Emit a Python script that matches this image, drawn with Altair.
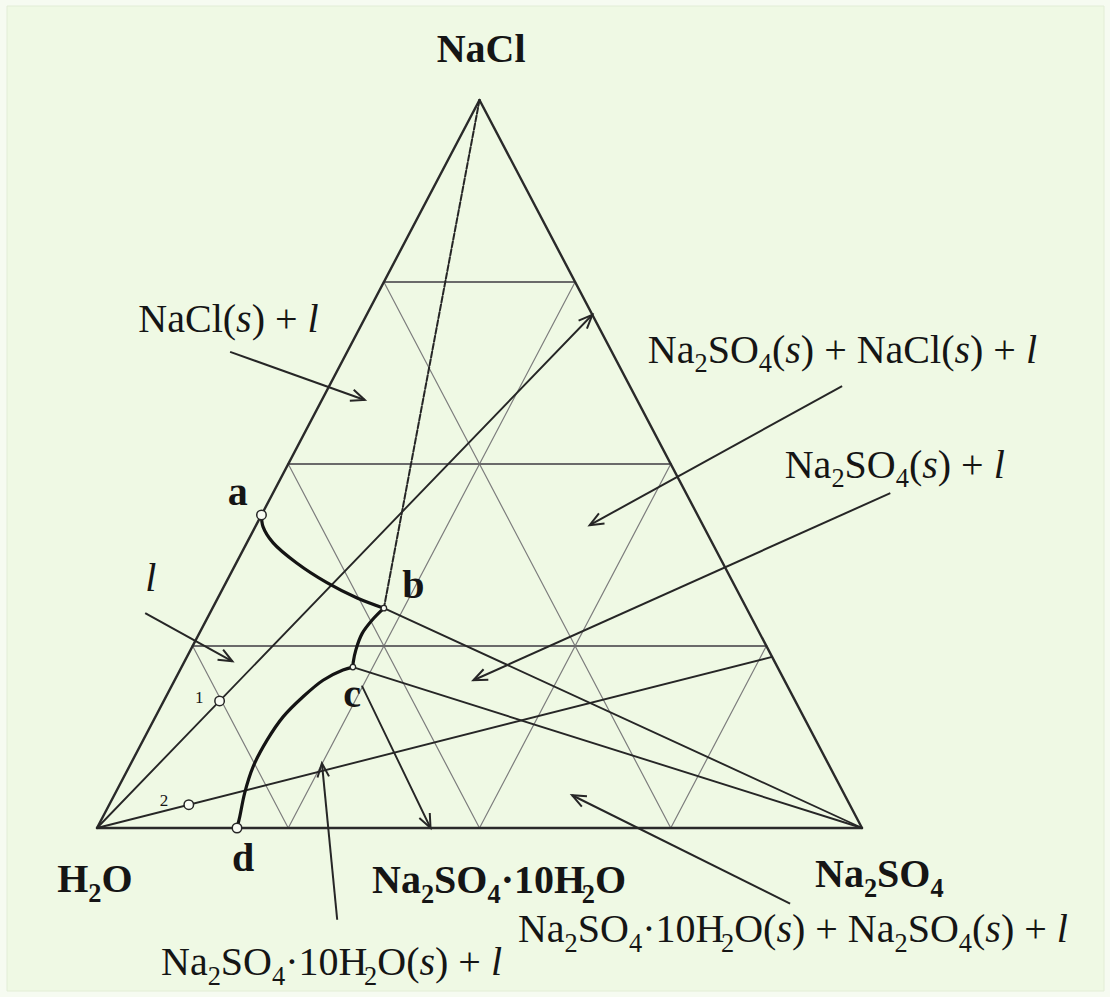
import math
import altair as alt
import pandas as pd

# ---------------------------------------------------------------
# NaCl – Na2SO4 – H2O ternary phase diagram
# compositions are mass %, given as (NaCl, Na2SO4); water is the balance
# ---------------------------------------------------------------

# saturation curve a-b : liquid saturated with NaCl
ab_nacl = [43.0, 41.4, 39.2, 36.4, 33.7, 31.6, 30.2]
ab_na2so4 = [0.0, 1.0, 3.4, 7.9, 13.2, 18.2, 22.4]
# saturation curve b-c : liquid saturated with anhydrous Na2SO4
bc_nacl = [30.2, 28.6, 26.7, 24.5, 22.8, 22.1]
bc_na2so4 = [22.4, 21.7, 21.3, 21.6, 22.1, 22.4]
# saturation curve c-d : liquid saturated with Na2SO4·10H2O
cd_nacl = [22.1, 21.7, 20.3, 18.0, 15.3, 12.1, 8.4, 4.8, 1.5, 0.0]
cd_na2so4 = [22.4, 21.3, 19.4, 17.9, 16.7, 16.2, 16.2, 16.9, 17.9, 18.3]

# marked compositions
point_names = ["a", "b", "c", "d", "1", "2"]
point_nacl = [43.0, 30.2, 22.1, 0.0, 17.45, 3.2]
point_na2so4 = [0.0, 22.4, 22.4, 18.3, 7.3, 10.4]

# Na2SO4·10H2O on the H2O–Na2SO4 side
decahydrate_na2so4 = 43.6
# ends of the water dilution lines through points 1 and 2 (NaCl, Na2SO4)
line1_end = (70.5, 29.5)
line2_end = (23.5, 76.5)
# composition grid, %
grid_steps = [25, 50, 75]

BG = "#eff9e4"
FONT = "Liberation Serif"


def tern(nacl, na2so4):
    """Composition (%) -> plot coordinates (H2O at origin, Na2SO4 at x=1)."""
    return na2so4 / 100 + nacl / 200, nacl / 100


# plot coordinates -> pixels: 765 px per unit along the base, 728 px per unit in height
PX_X, PX_Y = 765, 728
W, H = 1110, 997
X0, Y0 = -97 / PX_X, -169 / PX_Y
xs = alt.Scale(domain=[X0, X0 + W / PX_X], nice=False, zero=False)
ys = alt.Scale(domain=[Y0, Y0 + H / PX_Y], nice=False, zero=False)


def xy():
    return dict(x=alt.X("x:Q", scale=xs, axis=None),
                y=alt.Y("y:Q", scale=ys, axis=None))


def seg_row(p, q, kind):
    (x1, y1), (x2, y2) = tern(*p), tern(*q)
    return dict(x=x1, y=y1, x2=x2, y2=y2, kind=kind)


H2O, NA2SO4, NACL = (0, 0), (0, 100), (100, 0)

segments = [seg_row(H2O, NA2SO4, "edge"), seg_row(NA2SO4, NACL, "edge"),
            seg_row(NACL, H2O, "edge")]
for k in grid_steps:
    segments.append(seg_row((k, 0), (k, 100 - k), "hgrid"))
    segments.append(seg_row((0, k), (100 - k, k), "sgrid"))
    segments.append(seg_row((100 - k, 0), (0, 100 - k), "sgrid"))

b = (point_nacl[1], point_na2so4[1])
c = (point_nacl[2], point_na2so4[2])
dec = (0, decahydrate_na2so4)
c_start = (c[0] + 0.12 * (dec[0] - c[0]), c[1] + 0.12 * (dec[1] - c[1]))

segments += [
    seg_row(H2O, line1_end, "tie"),
    seg_row(H2O, line2_end, "tie"),
    seg_row(b, NA2SO4, "tie"),
    seg_row(c, NA2SO4, "tie"),
    seg_row(c_start, dec, "tie"),
    seg_row(NACL, b, "dash"),
]
seg_df = pd.DataFrame(segments)

# label arrows, in plot coordinates: tail x, tail y, head x, head y
arrows = [
    (0.174, 0.654, 0.350, 0.588),
    (0.063, 0.295, 0.177, 0.229),
    (0.974, 0.607, 0.644, 0.416),
    (1.037, 0.460, 0.492, 0.203),
    (0.314, -0.126, 0.294, 0.089),
    (0.906, -0.104, 0.621, 0.045),
]
arrow_df = pd.DataFrame(arrows, columns=["x", "y", "x2", "y2"])


def head_angle(x1, y1, x2, y2):
    dxp = (x2 - x1) * PX_X
    dyp = -(y2 - y1) * PX_Y
    return math.degrees(math.atan2(dxp, -dyp)) % 360


heads = []
for x1, y1, x2, y2 in arrows:
    heads.append(dict(x=x2, y=y2, angle=head_angle(x1, y1, x2, y2)))
for p, q in [(H2O, line1_end), (c_start, dec)]:
    (x1, y1), (x2, y2) = tern(*p), tern(*q)
    heads.append(dict(x=x2, y=y2, angle=head_angle(x1, y1, x2, y2)))
head_df = pd.DataFrame(heads)

# saturation curves
curve_rows = []
for name, nn, ss in [("ab", ab_nacl, ab_na2so4), ("bc", bc_nacl, bc_na2so4),
                     ("cd", cd_nacl, cd_na2so4)]:
    for i, (n, s) in enumerate(zip(nn, ss)):
        x, y = tern(n, s)
        curve_rows.append(dict(x=x, y=y, seg=name, ord=i))
curve_df = pd.DataFrame(curve_rows)

pts = [dict(zip(("x", "y"), tern(n, s)), name=nm)
       for nm, n, s in zip(point_names, point_nacl, point_na2so4)]
pts_df = pd.DataFrame(pts)
open_df = pts_df[pts_df["name"].isin(["a", "d", "1", "2"])]
small_df = pts_df[pts_df["name"].isin(["b", "c"])]

# ---------------------------------------------------------------
# text labels: "_" marks a subscript character, "*...*" italic
# ---------------------------------------------------------------
labels = [
    ("NaCl", 0.444, 1.052, "bold", 40),
    ("H_2O", -0.052, -0.088, "bold", 40),
    ("Na_2SO_4·10H_2O", 0.3595, -0.0893, "bold", 40),
    ("Na_2SO_4", 0.9386, -0.081, "bold", 40),
    ("a", 0.171, 0.444, "bold", 40),
    ("b", 0.399, 0.316, "bold", 40),
    ("c", 0.322, 0.166, "bold", 40),
    ("d", 0.1765, -0.059, "bold", 40),
    ("1", 0.128, 0.172, "reg", 17),
    ("2", 0.082, 0.030, "reg", 17),
    ("NaCl(*s*) + *l*", 0.054, 0.681, "reg", 40),
    ("Na_2SO_4(*s*) + NaCl(*s*) + *l*", 0.720, 0.639, "reg", 40),
    ("Na_2SO_4(*s*) + *l*", 0.899, 0.481, "reg", 40),
    ("*l*", 0.063, 0.3255, "reg", 40),
    ("Na_2SO_4·10H_2O(*s*) + *l*", 0.0837, -0.2019, "reg", 40),
    ("Na_2SO_4·10H_2O(*s*) + Na_2SO_4(*s*) + *l*", 0.5503, -0.1566, "reg", 40),
]

# advance widths (em) of the serif face
REG = {" ": 0.25, "(": 0.333, ")": 0.333, "+": 0.564, "0": 0.5, "1": 0.5,
       "2": 0.5, "4": 0.5, "C": 0.667, "H": 0.722, "N": 0.722, "O": 0.722,
       "S": 0.556, "a": 0.444, "l": 0.278, "s": 0.389, "·": 0.25}
ITAL = {"s": 0.389, "l": 0.278}
BOLD = {" ": 0.25, "N": 0.722, "a": 0.5, "C": 0.722, "l": 0.278, "H": 0.778,
        "O": 0.778, "S": 0.556, "0": 0.5, "1": 0.5, "2": 0.5, "4": 0.5,
        "·": 0.25, "b": 0.556, "c": 0.444, "d": 0.556}
SUB_SCALE, SUB_DROP = 0.66, 0.24


def layout(markup, x0, y0, base, size):
    chars = []
    italic = False
    i = 0
    while i < len(markup):
        ch = markup[i]
        if ch == "*":
            italic = not italic
            i += 1
            continue
        if ch == "_":
            i += 1
            chars.append((markup[i], base + "_sub", size * SUB_SCALE, size * SUB_DROP))
        elif italic:
            chars.append((ch, "ital", size, 0.0))
        else:
            chars.append((ch, base, size, 0.0))
        i += 1

    pieces, off, run = [], 0.0, None

    def flush():
        if run and run["text"]:
            pieces.append(dict(x=x0 + run["off"] / PX_X,
                               y=y0 - run["drop"] / PX_Y,
                               text=run["text"], style=run["style"], fs=run["fs"]))

    for ch, style, fs, drop in chars:
        table = ITAL if style == "ital" else (BOLD if style.startswith("bold") else REG)
        w = table.get(ch, 0.5) * fs
        if ch == " ":
            flush()
            run = None
        else:
            if run is None or run["style"] != style:
                flush()
                run = dict(text="", style=style, fs=fs, drop=drop, off=off)
            run["text"] += ch
        off += w
    flush()
    return pieces


piece_rows = []
for lab in labels:
    piece_rows += layout(*lab)
text_df = pd.DataFrame(piece_rows)

# ---------------------------------------------------------------
# layers
# ---------------------------------------------------------------
frame = alt.Chart(pd.DataFrame({"k": [0]})).mark_rect(
    fill=BG, stroke="#e2edd6", strokeWidth=1
).encode(x=alt.value(7), x2=alt.value(1104), y=alt.value(6), y2=alt.value(991))


def rules(kind, **style):
    return alt.Chart(seg_df).transform_filter(alt.datum.kind == kind).mark_rule(
        strokeCap="round", **style
    ).encode(**xy(), x2=alt.X2("x2:Q"), y2=alt.Y2("y2:Q"))


sgrid = rules("sgrid", color="#7d7d7d", strokeWidth=1.2)
hgrid = rules("hgrid", color="#6a6a6a", strokeWidth=2.2)
edges = rules("edge", color="#2a2a2a", strokeWidth=2.4)
ties = rules("tie", color="#262626", strokeWidth=1.9)
dashed = rules("dash", color="#262626", strokeWidth=2, strokeDash=[6, 2])

arrow_lines = alt.Chart(arrow_df).mark_rule(color="#262626", strokeWidth=2).encode(
    **xy(), x2=alt.X2("x2:Q"), y2=alt.Y2("y2:Q"))

arrow_heads = alt.Chart(head_df).mark_point(
    shape="M-0.42,1L0,0L0.42,1", filled=False, color="#262626",
    strokeWidth=2, size=760, opacity=1
).encode(**xy(), angle=alt.Angle("angle:Q", scale=None))

curves = alt.Chart(curve_df).mark_line(
    interpolate="catmull-rom", color="#141414", strokeWidth=3.2
).encode(**xy(), detail="seg:N", order="ord:Q")

circles = alt.Chart(open_df).mark_point(
    shape="circle", filled=True, fill="#f8fcf3", stroke="#262626",
    strokeWidth=1.5, size=90, opacity=1
).encode(**xy())

small_marks = alt.Chart(small_df).mark_point(
    shape="circle", filled=True, fill="#f8fcf3", stroke="#262626",
    strokeWidth=1.3, size=30, opacity=1
).encode(**xy())


def texts(style, **props):
    return alt.Chart(text_df).transform_filter(alt.datum.style == style).mark_text(
        align="left", baseline="alphabetic", font=FONT, color="#151515", **props
    ).encode(**xy(), text="text:N", size=alt.Size("fs:Q", scale=None))


text_layers = [
    texts("reg"),
    texts("reg_sub"),
    texts("ital", fontStyle="italic"),
    texts("bold", fontWeight="bold"),
    texts("bold_sub", fontWeight="bold"),
]

chart = alt.layer(
    frame, sgrid, hgrid, edges, ties, dashed, arrow_lines, arrow_heads,
    curves, circles, small_marks, *text_layers
).properties(
    width=W, height=H, padding=0, autosize="none", background="#f6fbf1"
).configure_view(stroke=None)

chart.save("out.html", embed_options={"renderer": "svg", "actions": False})
